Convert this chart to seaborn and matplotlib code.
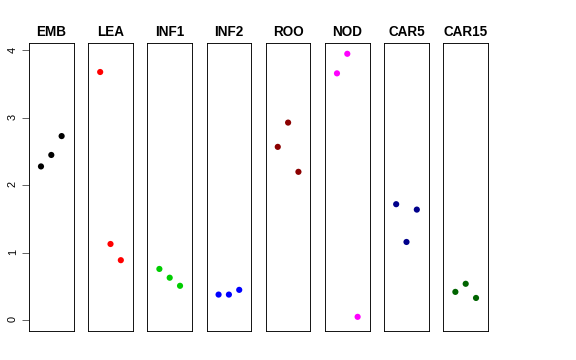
import seaborn as sns
import matplotlib.pyplot as plt
import pandas as pd

# expression values, three replicates per tissue
tissues = ['EMB', 'LEA', 'INF1', 'INF2', 'ROO', 'NOD', 'CAR5', 'CAR15']
replicate = [1, 2, 3]
emb = [2.28, 2.45, 2.73]
lea = [3.68, 1.13, 0.89]
inf1 = [0.76, 0.63, 0.51]
inf2 = [0.38, 0.38, 0.45]
roo = [2.57, 2.93, 2.20]
nod = [3.66, 3.95, 0.05]
car5 = [1.72, 1.16, 1.64]
car15 = [0.42, 0.54, 0.33]
colors = ['black', 'red', '#00CD00', 'blue', '#8B0000', 'magenta', '#00008B', '#006400']

values = [emb, lea, inf1, inf2, roo, nod, car5, car15]
df = pd.DataFrame({
    'tissue': [t for t in tissues for _ in replicate],
    'rep': replicate * len(tissues),
    'value': [v for vals in values for v in vals],
})

sns.set_style('white')
plt.rcParams['font.family'] = ['Liberation Sans', 'DejaVu Sans']
plt.rcParams['text.color'] = 'black'
plt.rcParams['ytick.labelcolor'] = 'black'

fig, axes = plt.subplots(1, 8, figsize=(8, 5), dpi=72)
fig.subplots_adjust(left=29 / 576, right=488 / 576, bottom=29 / 360, top=317 / 360, wspace=0.327)

for ax, t, c in zip(axes, tissues, colors):
    sns.scatterplot(data=df[df.tissue == t], x='rep', y='value', color=c,
                    s=38, edgecolor='none', legend=False, ax=ax)
    ax.set_xlim(-0.16, 4.16)
    ax.set_ylim(-0.16, 4.11)
    ax.set_title(t, fontweight='bold', fontsize=13.5, pad=7, color='black')
    ax.set_xticks([])
    ax.set_yticks([])
    ax.set_xlabel('')
    ax.set_ylabel('')
    for sp in ax.spines.values():
        sp.set_color('black')
        sp.set_linewidth(0.9)

axes[0].set_yticks([0, 1, 2, 3, 4])
axes[0].tick_params(axis='y', left=True, length=7, width=0.9, color='#555555',
                    labelcolor='black', labelsize=11, pad=4, labelrotation=90)

plt.savefig('out.png', dpi=72)
